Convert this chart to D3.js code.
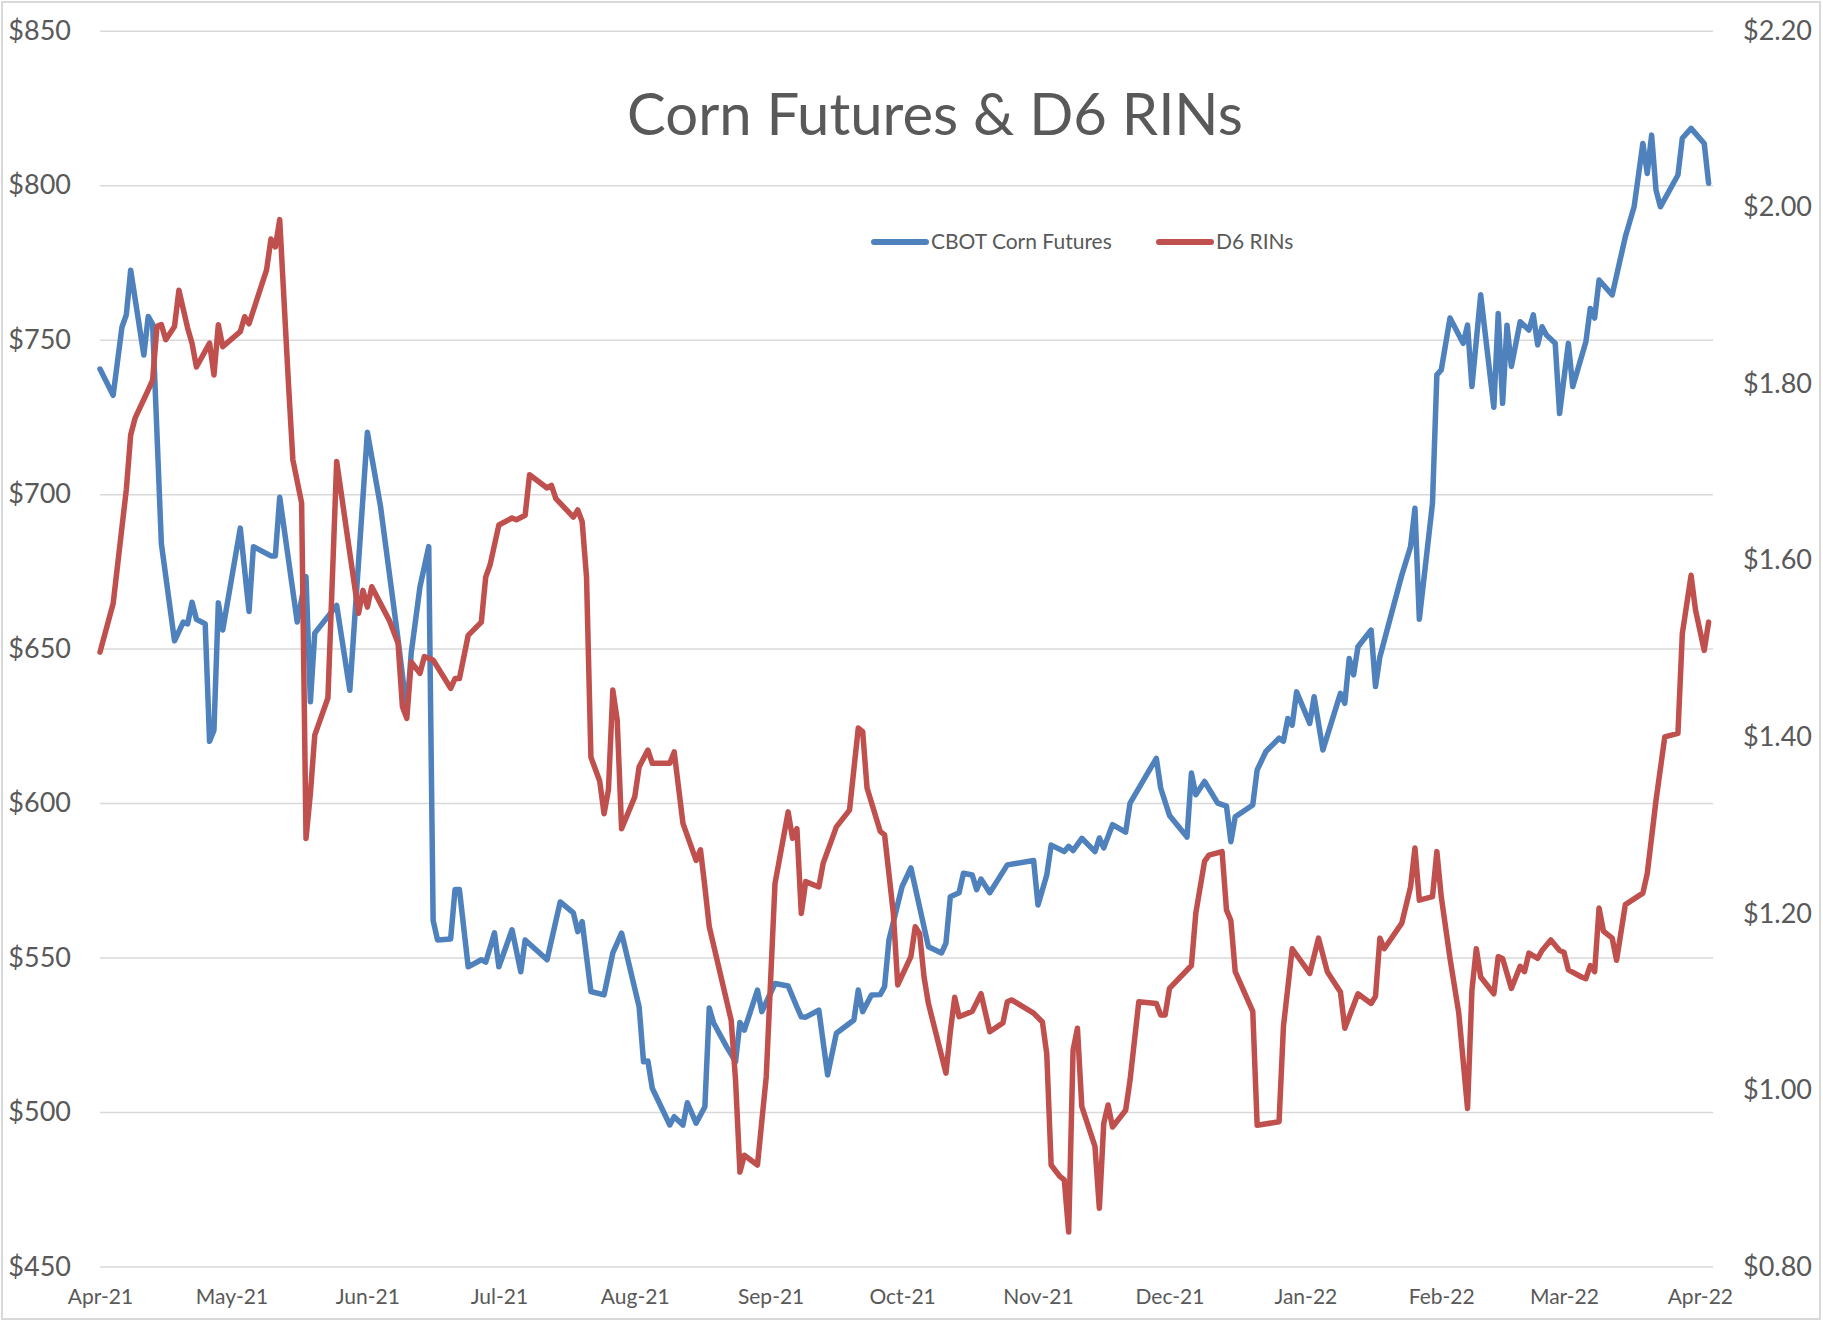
<!DOCTYPE html>
<html>
<head>
<meta charset="utf-8">
<title>Corn Futures & D6 RINs</title>
<script src="https://cdn.jsdelivr.net/npm/d3@7"></script>
<style>
  body { margin: 0; background: #fff; }
  text { font-family: Lato, "Open Sans", sans-serif; fill: #595959; }
</style>
</head>
<body>
<div id="chart"></div>
<script>
// ---- data ----
var cornDates = ["2021-04-01","2021-04-04","2021-04-06","2021-04-07","2021-04-08","2021-04-11","2021-04-12","2021-04-13","2021-04-15","2021-04-18",
  "2021-04-20","2021-04-21","2021-04-22","2021-04-23","2021-04-25","2021-04-26","2021-04-27","2021-04-28","2021-04-29","2021-05-03",
  "2021-05-05","2021-05-06","2021-05-10","2021-05-11","2021-05-12","2021-05-16","2021-05-18","2021-05-19","2021-05-20","2021-05-25",
  "2021-05-28","2021-06-01","2021-06-04","2021-06-08","2021-06-10","2021-06-11","2021-06-13","2021-06-15","2021-06-16","2021-06-17",
  "2021-06-20","2021-06-21","2021-06-22","2021-06-24","2021-06-27","2021-06-28","2021-06-30","2021-07-01","2021-07-04","2021-07-06",
  "2021-07-07","2021-07-12","2021-07-15","2021-07-18","2021-07-19","2021-07-20","2021-07-22","2021-07-25","2021-07-27","2021-07-29",
  "2021-08-02","2021-08-03","2021-08-04","2021-08-05","2021-08-09","2021-08-10","2021-08-12","2021-08-13","2021-08-15","2021-08-17",
  "2021-08-18","2021-08-19","2021-08-22","2021-08-24","2021-08-25","2021-08-26","2021-08-29","2021-08-30","2021-09-02","2021-09-05",
  "2021-09-07","2021-09-08","2021-09-09","2021-09-12","2021-09-14","2021-09-16","2021-09-20","2021-09-21","2021-09-22","2021-09-24",
  "2021-09-26","2021-09-27","2021-09-28","2021-10-01","2021-10-03","2021-10-07","2021-10-10","2021-10-11","2021-10-12","2021-10-14",
  "2021-10-15","2021-10-17","2021-10-18","2021-10-19","2021-10-21","2021-10-25","2021-10-31","2021-11-01","2021-11-03","2021-11-04",
  "2021-11-07","2021-11-08","2021-11-09","2021-11-11","2021-11-14","2021-11-15","2021-11-16","2021-11-18","2021-11-21","2021-11-22",
  "2021-11-28","2021-11-29","2021-12-01","2021-12-05","2021-12-06","2021-12-07","2021-12-09","2021-12-12","2021-12-14","2021-12-15",
  "2021-12-16","2021-12-20","2021-12-21","2021-12-23","2021-12-26","2021-12-27","2021-12-28","2021-12-29","2021-12-30","2022-01-02",
  "2022-01-03","2022-01-05","2022-01-09","2022-01-10","2022-01-11","2022-01-12","2022-01-13","2022-01-16","2022-01-17","2022-01-18",
  "2022-01-23","2022-01-25","2022-01-26","2022-01-27","2022-01-30","2022-01-31","2022-02-01","2022-02-03","2022-02-06","2022-02-07",
  "2022-02-08","2022-02-10","2022-02-13","2022-02-14","2022-02-15","2022-02-16","2022-02-17","2022-02-19","2022-02-21","2022-02-22",
  "2022-02-23","2022-02-24","2022-02-25","2022-02-27","2022-02-28","2022-03-02","2022-03-03","2022-03-06","2022-03-07","2022-03-08",
  "2022-03-09","2022-03-12","2022-03-15","2022-03-17","2022-03-19","2022-03-20","2022-03-21","2022-03-22","2022-03-23","2022-03-27",
  "2022-03-28","2022-03-30","2022-04-02","2022-04-03"];
var cornPrices = [740.5,732,754,758,772.5,745,757.5,755,684,652.5,
  658.6,658,665,659.5,658,620,623.6,664.8,656,689,
  662,683,680,680,699,658.6,673.3,632.8,655,664,
  636.5,720,696,653,629.6,648.5,670,683,562,555.7,
  556,572,572,547,549.3,548.5,558,547,559,545.4,
  555.7,549.3,568,564.5,558.4,561.6,539,537.9,551.5,557.9,
  534,516.3,516.5,507.7,495.8,498.5,495.8,503,496.4,501.7,
  533.7,528.8,521,516.3,529,526.5,539.5,532.5,541.6,540.8,
  534,530.8,530.7,533,512,525.5,529.8,539.5,532.5,537.9,
  538,540.6,555.7,573,579,553.5,551.5,554.7,569.7,571,
  577.3,576.7,572,575.4,571,580,581.4,567,576.7,586.4,
  584.3,586,584.6,588.6,584.3,588.7,585.5,593,590.6,600,
  614.5,604.8,596,589,609.7,602.7,607,600,599,587.5,
  595.6,599.4,610.7,616.7,621,620,627.4,625.2,636,625.8,
  634.4,617.2,635.5,632.3,646.8,641.5,650.6,656,637.7,647.3,
  673.8,683,695.4,659.5,697,738.6,740.2,757,748.8,754.7,
  734.8,764.5,728.1,758.5,729.4,754.7,741.3,755.8,753.1,758,
  748.3,754.2,751.5,748.8,726.1,748.8,734.8,749.3,760.1,757,
  769.3,764.5,783.3,793,813.5,803.8,816.2,798.4,793,803.3,
  815.2,818.4,813.5,800.6];

var rinDates = ["2021-04-01","2021-04-04","2021-04-07","2021-04-08","2021-04-09","2021-04-12","2021-04-13","2021-04-14","2021-04-15","2021-04-16",
  "2021-04-18","2021-04-19","2021-04-21","2021-04-22","2021-04-23","2021-04-26","2021-04-27","2021-04-28","2021-04-29","2021-05-03",
  "2021-05-04","2021-05-05","2021-05-09","2021-05-10","2021-05-11","2021-05-12","2021-05-14","2021-05-15","2021-05-17","2021-05-18",
  "2021-05-19","2021-05-20","2021-05-23","2021-05-25","2021-05-28","2021-05-30","2021-05-31","2021-06-01","2021-06-02","2021-06-06",
  "2021-06-08","2021-06-09","2021-06-10","2021-06-11","2021-06-13","2021-06-14","2021-06-16","2021-06-20","2021-06-21","2021-06-22",
  "2021-06-24","2021-06-27","2021-06-28","2021-06-29","2021-07-01","2021-07-04","2021-07-05","2021-07-07","2021-07-08","2021-07-12",
  "2021-07-13","2021-07-14","2021-07-18","2021-07-19","2021-07-20","2021-07-21","2021-07-22","2021-07-24","2021-07-25","2021-07-26",
  "2021-07-27","2021-07-28","2021-07-29","2021-08-01","2021-08-02","2021-08-04","2021-08-05","2021-08-09","2021-08-10","2021-08-12",
  "2021-08-15","2021-08-16","2021-08-17","2021-08-18","2021-08-23","2021-08-24","2021-08-25","2021-08-26","2021-08-29","2021-08-31",
  "2021-09-02","2021-09-05","2021-09-06","2021-09-07","2021-09-08","2021-09-09","2021-09-12","2021-09-13","2021-09-16","2021-09-19",
  "2021-09-21","2021-09-22","2021-09-23","2021-09-26","2021-09-27","2021-09-29","2021-09-30","2021-10-03","2021-10-04","2021-10-05",
  "2021-10-06","2021-10-07","2021-10-11","2021-10-12","2021-10-13","2021-10-14","2021-10-17","2021-10-19","2021-10-21","2021-10-24",
  "2021-10-25","2021-10-26","2021-10-31","2021-11-02","2021-11-03","2021-11-04","2021-11-06","2021-11-07","2021-11-08","2021-11-09",
  "2021-11-10","2021-11-11","2021-11-14","2021-11-15","2021-11-16","2021-11-17","2021-11-18","2021-11-21","2021-11-22","2021-11-24",
  "2021-11-28","2021-11-29","2021-11-30","2021-12-01","2021-12-06","2021-12-07","2021-12-09","2021-12-10","2021-12-13","2021-12-14",
  "2021-12-15","2021-12-16","2021-12-20","2021-12-21","2021-12-26","2021-12-27","2021-12-29","2022-01-02","2022-01-04","2022-01-06",
  "2022-01-09","2022-01-10","2022-01-13","2022-01-16","2022-01-17","2022-01-18","2022-01-19","2022-01-23","2022-01-25","2022-01-26",
  "2022-01-27","2022-01-30","2022-01-31","2022-02-01","2022-02-03","2022-02-05","2022-02-07","2022-02-08","2022-02-09","2022-02-10",
  "2022-02-13","2022-02-14","2022-02-15","2022-02-17","2022-02-19","2022-02-20","2022-02-21","2022-02-23","2022-02-24","2022-02-26",
  "2022-02-28","2022-03-01","2022-03-02","2022-03-05","2022-03-06","2022-03-07","2022-03-08","2022-03-09","2022-03-10","2022-03-12",
  "2022-03-13","2022-03-15","2022-03-19","2022-03-20","2022-03-22","2022-03-24","2022-03-27","2022-03-28","2022-03-30","2022-03-31",
  "2022-04-02","2022-04-03"];
var rinPrices = [1.496,1.551,1.680,1.742,1.761,1.793,1.804,1.865,1.867,1.850,
  1.865,1.906,1.863,1.846,1.819,1.846,1.810,1.867,1.842,1.859,
  1.876,1.868,1.929,1.964,1.955,1.986,1.800,1.714,1.665,1.285,
  1.336,1.402,1.444,1.712,1.608,1.540,1.566,1.547,1.570,1.532,
  1.506,1.434,1.421,1.485,1.472,1.491,1.487,1.455,1.466,1.466,
  1.515,1.530,1.581,1.595,1.640,1.648,1.646,1.651,1.697,1.682,
  1.685,1.670,1.649,1.657,1.644,1.581,1.377,1.350,1.313,1.340,
  1.453,1.419,1.296,1.332,1.366,1.385,1.370,1.370,1.383,1.302,
  1.260,1.272,1.230,1.185,1.079,1.011,0.907,0.926,0.915,1.015,
  1.234,1.315,1.285,1.296,1.200,1.236,1.230,1.257,1.298,1.317,
  1.410,1.406,1.342,1.293,1.289,1.200,1.119,1.151,1.185,1.177,
  1.128,1.098,1.019,1.066,1.105,1.083,1.089,1.109,1.066,1.076,
  1.100,1.102,1.087,1.077,1.041,0.915,0.902,0.898,0.839,1.045,
  1.070,0.981,0.936,0.866,0.962,0.983,0.958,0.977,1.011,1.100,
  1.098,1.085,1.085,1.115,1.141,1.200,1.259,1.266,1.270,1.204,
  1.192,1.134,1.089,0.960,0.964,1.072,1.160,1.132,1.172,1.134,
  1.111,1.070,1.109,1.098,1.106,1.172,1.160,1.189,1.230,1.274,
  1.215,1.219,1.270,1.219,1.149,1.087,0.979,1.113,1.160,1.128,
  1.109,1.151,1.149,1.115,1.140,1.134,1.155,1.149,1.158,1.170,
  1.158,1.156,1.136,1.128,1.126,1.141,1.134,1.206,1.180,1.172,
  1.147,1.210,1.223,1.245,1.328,1.400,1.404,1.517,1.583,1.544,
  1.498,1.530];

var leftTicks = [450, 500, 550, 600, 650, 700, 750, 800, 850];
var rightTicks = [0.80, 1.00, 1.20, 1.40, 1.60, 1.80, 2.00, 2.20];
var monthTicks = ["2021-04-01","2021-05-01","2021-06-01","2021-07-01","2021-08-01","2021-09-01","2021-10-01",
  "2021-11-01","2021-12-01","2022-01-01","2022-02-01","2022-03-01","2022-04-01"];
var seriesNames = ["CBOT Corn Futures", "D6 RINs"];
var seriesColors = ["#4f81bd", "#c0504d"];

// ---- layout ----
var width = 1823, height = 1322;
var plot = {left: 100, right: 1713, top: 30.7, bottom: 1266.5};

var parse = d3.timeParse("%Y-%m-%d");

var svg = d3.select("#chart").append("svg")
  .attr("width", width)
  .attr("height", height);

svg.append("rect")
  .attr("x", 2).attr("y", 2)
  .attr("width", width - 5).attr("height", height - 5)
  .attr("fill", "#fff")
  .attr("stroke", "#d9d9d9")
  .attr("stroke-width", 2);

var x = d3.scaleTime()
  .domain([parse("2021-04-01"), parse("2022-04-04")])
  .range([plot.left, plot.right]);
var yL = d3.scaleLinear().domain([450, 850]).range([plot.bottom, plot.top]);
var yR = d3.scaleLinear().domain([0.8, 2.2]).range([plot.bottom, plot.top]);

// gridlines
var grid = svg.append("g")
  .attr("transform", "translate(" + plot.left + ",0)")
  .call(d3.axisLeft(yL).tickValues(leftTicks).tickSize(-(plot.right - plot.left)).tickFormat(""));
grid.select(".domain").remove();
grid.selectAll("line").attr("stroke", "#d9d9d9").attr("stroke-width", 1.5);

// left axis
var axL = svg.append("g")
  .attr("transform", "translate(" + plot.left + ",0)")
  .call(d3.axisLeft(yL).tickValues(leftTicks).tickSize(0).tickPadding(29)
    .tickFormat(function(d) { return "$" + d; }));
axL.select(".domain").remove();
axL.selectAll("text").style("font-size", "27px").attr("fill", "#595959");

// right axis
var axR = svg.append("g")
  .attr("transform", "translate(" + plot.right + ",0)")
  .call(d3.axisRight(yR).tickValues(rightTicks).tickSize(0).tickPadding(30)
    .tickFormat(function(d) { return "$" + d3.format(".2f")(d); }));
axR.select(".domain").remove();
axR.selectAll("text").style("font-size", "27px").attr("fill", "#595959");

// bottom axis
var axB = svg.append("g")
  .attr("transform", "translate(0," + plot.bottom + ")")
  .call(d3.axisBottom(x).tickValues(monthTicks.map(parse)).tickSize(0).tickPadding(23)
    .tickFormat(d3.timeFormat("%b-%y")));
axB.select(".domain").remove();
axB.selectAll("text").style("font-size", "21px").attr("fill", "#595959");

// lines
var cornData = cornDates.map(function(d, i) { return {date: parse(d), value: cornPrices[i]}; });
var rinData = rinDates.map(function(d, i) { return {date: parse(d), value: rinPrices[i]}; });

var lineL = d3.line()
  .x(function(d) { return x(d.date); })
  .y(function(d) { return yL(d.value); });
var lineR = d3.line()
  .x(function(d) { return x(d.date); })
  .y(function(d) { return yR(d.value); });

svg.append("path")
  .datum(cornData)
  .attr("fill", "none")
  .attr("stroke", seriesColors[0])
  .attr("stroke-width", 5.5)
  .attr("stroke-linejoin", "round")
  .attr("stroke-linecap", "round")
  .attr("d", lineL);

svg.append("path")
  .datum(rinData)
  .attr("fill", "none")
  .attr("stroke", seriesColors[1])
  .attr("stroke-width", 5.5)
  .attr("stroke-linejoin", "round")
  .attr("stroke-linecap", "round")
  .attr("d", lineR);

// title
svg.append("text")
  .attr("x", 935)
  .attr("y", 135)
  .attr("text-anchor", "middle")
  .style("font-size", "58px")
  .text("Corn Futures & D6 RINs");

// legend
var legendX = [872, 1157];
var legend = svg.selectAll(".legend")
  .data(seriesNames)
  .enter()
  .append("g")
  .attr("class", "legend")
  .attr("transform", function(d, i) { return "translate(" + legendX[i] + ",242)"; });
legend.append("line")
  .attr("x1", 2).attr("x2", 54)
  .attr("stroke", function(d, i) { return seriesColors[i]; })
  .attr("stroke-width", 6)
  .attr("stroke-linecap", "round");
legend.append("text")
  .attr("x", 59)
  .attr("dy", "0.35em")
  .style("font-size", "21px")
  .text(function(d) { return d; });
</script>
</body>
</html>
